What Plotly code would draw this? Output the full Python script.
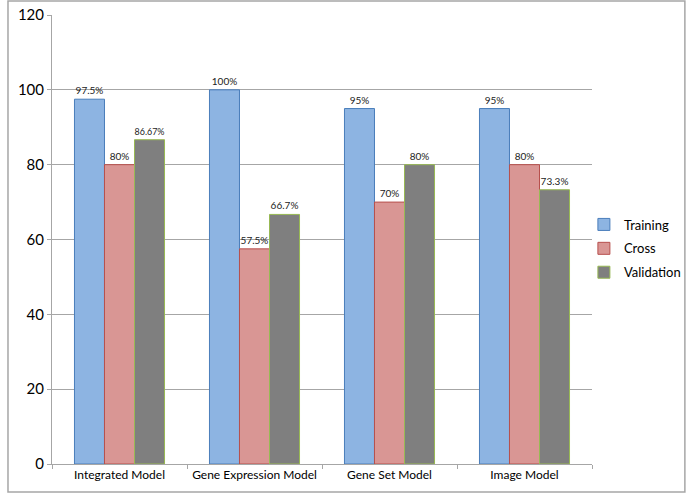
import plotly.graph_objects as go

# modelos y porcentajes
models = ["Integrated Model", "Gene Expression Model", "Gene Set Model", "Image Model"]
training = [97.5, 100, 95, 95]
cross = [80, 57.5, 70, 80]
validation = [86.67, 66.7, 80, 73.3]
training_lbl = ["97.5%", "100%", "95%", "95%"]
cross_lbl = ["80%", "57.5%", "70%", "80%"]
validation_lbl = ["86.67%", "66.7%", "80%", "73.3%"]
y_ticks = [0, 20, 40, 60, 80, 100, 120]

fig = go.Figure()
fig.add_trace(go.Bar(x=models, y=training, name="Training", text=training_lbl, legendgroup="a",
                     marker=dict(color="#8DB4E2", line=dict(color="#4A7EBB", width=1))))
fig.add_trace(go.Bar(x=models, y=cross, name="Cross", text=cross_lbl, legendgroup="b",
                     marker=dict(color="#D99694", line=dict(color="#B7504D", width=1))))
fig.add_trace(go.Bar(x=models, y=validation, name="Validation", text=validation_lbl, legendgroup="c",
                     marker=dict(color="#7F7F7F", line=dict(color="#98B954", width=1))))
fig.update_traces(textposition="outside", textfont=dict(size=10, color="#222"),
                  cliponaxis=False, textangle=0)

fig.update_layout(
    width=695, height=494,
    margin=dict(l=52, r=103, t=15, b=30, autoexpand=False),
    paper_bgcolor="white", plot_bgcolor="white",
    font=dict(family="Lato, Open Sans, sans-serif", color="#000"),
    barmode="group", bargap=0.333, bargroupgap=0,
    showlegend=True,
    legend=dict(x=0.985, y=0.48, xanchor="left", yanchor="middle", itemwidth=30,
                tracegroupgap=4, font=dict(size=13), bgcolor="rgba(0,0,0,0)"),
    shapes=[dict(type="rect", xref="paper", yref="paper",
                 x0=-0.0815, x1=1.172, y0=-0.0624, y1=1.031,
                 line=dict(color="#A6A6A6", width=1.5), layer="below")],
)
fig.update_yaxes(range=[0, 120], tickvals=y_ticks, showgrid=True, gridcolor="#A6A6A6",
                 showline=True, linecolor="#A6A6A6", ticks="outside", ticklen=4,
                 tickcolor="#A6A6A6", tickfont=dict(size=15), zeroline=False,
                 automargin=False)
fig.update_xaxes(showline=True, linecolor="#A6A6A6", ticks="outside", tickson="boundaries",
                 ticklen=4, tickcolor="#A6A6A6", tickfont=dict(size=12), tickangle=0,
                 automargin=False)

# quito el margen del body para que el grafico quede en (0,0)
fig.write_html("out.html", config={"displayModeBar": False},
               post_script="document.body.style.margin='0px';")
